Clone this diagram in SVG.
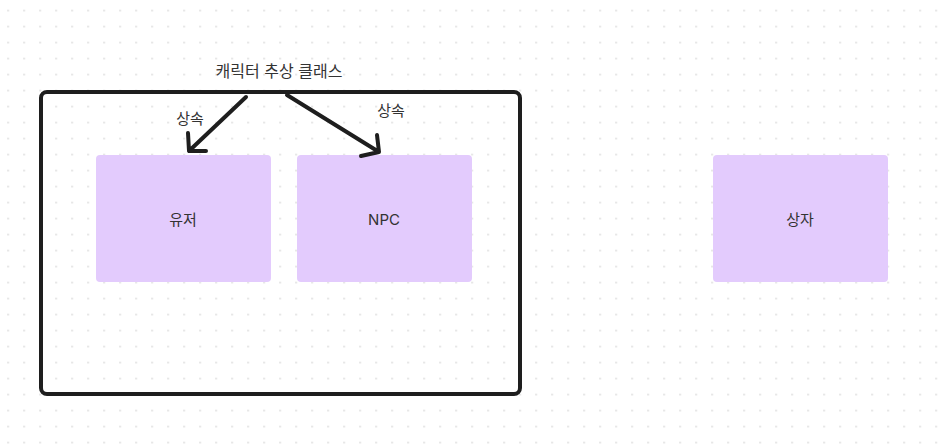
<svg xmlns="http://www.w3.org/2000/svg" width="949" height="446" viewBox="0 0 949 446">
<defs>
<pattern id="dots" x="0" y="0" width="16" height="16" patternUnits="userSpaceOnUse" patternTransform="translate(0.3,2.7)">
<rect x="7" y="7" width="1.6" height="1.6" fill="#d9d9d9"/>
</pattern>
<style>
.lbl{font-family:Inter,"Noto Sans CJK KR","Noto Sans",sans-serif;font-size:15px;font-weight:400;fill:#333333;text-anchor:middle;dominant-baseline:central}
.box{fill:#e3cbfd}
.wire{fill:none;stroke:#1e1e1e;stroke-width:4;stroke-linecap:round;stroke-linejoin:round}
</style>
</defs>
<rect width="949" height="446" fill="#ffffff"/>
<rect width="949" height="446" fill="url(#dots)"/>
<g id="container">
<rect x="41" y="92" width="479" height="302" rx="6" fill="none" stroke="#1e1e1e" stroke-width="4"/>
<text class="lbl" x="279" y="71" style="font-size:16px">캐릭터 추상 클래스</text>
</g>
<g id="user">
<rect class="box" x="96" y="155" width="175" height="127" rx="4"/>
<text class="lbl" x="183" y="219">유저</text>
</g>
<g id="npc">
<rect class="box" x="297" y="155" width="175" height="127" rx="4"/>
<text class="lbl" x="384" y="219">NPC</text>
</g>
<g id="box">
<rect class="box" x="713" y="155" width="175" height="127" rx="4"/>
<text class="lbl" x="800" y="219">상자</text>
</g>
<g id="connectors">
<path class="wire" d="M246 97 L189 151 M188 133 L189 151 L206 151"/>
<path class="wire" d="M287 95 L379 152 M377 135 L379 152 L361 156"/>
<text class="lbl" x="190" y="118">상속</text>
<text class="lbl" x="391" y="110">상속</text>
</g>
</svg>
